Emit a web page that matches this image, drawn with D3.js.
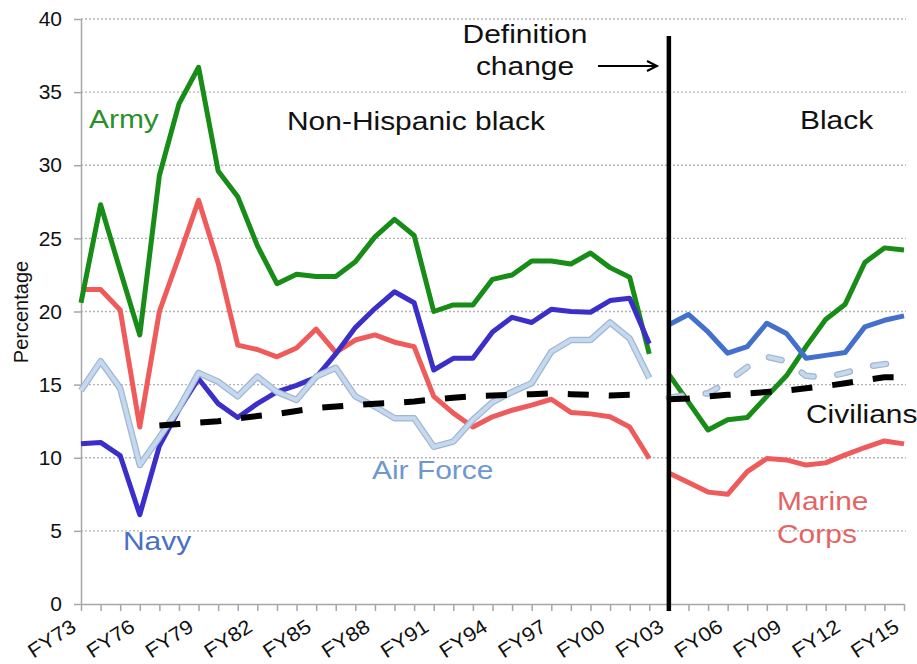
<!DOCTYPE html>
<html><head><meta charset="utf-8">
<script src="https://cdn.jsdelivr.net/npm/d3@7"></script>
<style>
html,body{margin:0;padding:0;background:#fff;}
svg{display:block;font-family:"Liberation Sans",Arial,sans-serif;}
</style></head>
<body>
<svg id="c" width="917" height="664"></svg>
<script>
const years = ["FY73","FY74","FY75","FY76","FY77","FY78","FY79","FY80","FY81","FY82",
  "FY83","FY84","FY85","FY86","FY87","FY88","FY89","FY90","FY91","FY92",
  "FY93","FY94","FY95","FY96","FY97","FY98","FY99","FY00","FY01","FY02",
  "FY03","FY04","FY05","FY06","FY07","FY08","FY09","FY10","FY11","FY12","FY13","FY14","FY15"];
const preYears = years.slice(0, 30);   // FY73-FY02, non-Hispanic black
const postYears = years.slice(30);     // FY03-FY15, black
const yTicks = [0,5,10,15,20,25,30,35,40];

const armyPre = [20.6,27.3,22.8,18.4,29.3,34.2,36.7,29.6,27.85,24.5,21.9,22.55,22.4,22.4,23.4,25.1,26.3,25.2,20.0,20.45,20.45,22.2,22.5,23.45,23.45,23.25,24.0,23.0,22.35,17.1];
const navyPre = [10.95,11.05,10.15,6.1,10.8,13.3,15.4,13.7,12.75,13.7,14.5,14.95,15.5,17.1,18.9,20.2,21.35,20.6,16.0,16.8,16.8,18.6,19.6,19.25,20.15,20.0,19.95,20.75,20.9,17.8];
const marinePre = [21.5,21.5,20.1,12.1,20.0,23.75,27.6,23.3,17.7,17.4,16.9,17.5,18.8,17.2,18.05,18.4,17.9,17.6,14.2,13.05,12.1,12.8,13.25,13.6,14.0,13.1,13.0,12.8,12.1,9.95];
const airPre = [14.6,16.6,14.75,9.5,11.4,13.4,15.8,15.2,14.2,15.55,14.5,13.95,15.55,16.15,14.2,13.5,12.7,12.7,10.75,11.1,12.6,13.8,14.5,15.1,17.25,18.05,18.05,19.25,18.15,15.45];
const civPre = [null,null,null,null,12.2,12.3,12.4,12.5,12.7,12.85,13.0,13.2,13.4,13.5,13.6,13.7,13.75,13.85,14.0,14.1,14.2,14.25,14.3,14.35,14.4,14.35,14.3,14.25,14.3,14.3];

const armyPost = [15.7,13.8,11.9,12.6,12.75,14.2,15.6,17.6,19.45,20.5,23.35,24.35,24.2];
const navyPost = [19.1,19.8,18.6,17.15,17.6,19.2,18.5,16.8,17.0,17.2,18.95,19.4,19.7];
const marinePost = [8.95,8.3,7.65,7.5,9.05,9.95,9.85,9.5,9.65,10.2,10.7,11.15,10.95];
const airPost = [14.1,14.3,14.4,15.2,16.2,16.9,16.6,15.6,15.5,15.8,16.2,16.4,16.6];
const civPost = [14.0,14.05,14.2,14.3,14.4,14.5,14.6,14.75,14.9,15.1,15.3,15.5,15.5];

const svg = d3.select("#c");
const x = d3.scalePoint().domain(years).range([81, 904]);
const y = d3.scaleLinear().domain([0, 40]).range([604, 19]);

// grid
svg.append("g").selectAll("line").data(yTicks.filter(v => v > 0)).join("line")
  .attr("x1", 81).attr("x2", 906).attr("y1", d => y(d)).attr("y2", d => y(d))
  .attr("stroke", "#b4b4b4").attr("stroke-width", 1.3).attr("stroke-dasharray", "2,2");

// axes
const yAxis = svg.append("g").attr("transform", "translate(81,0)")
  .call(d3.axisLeft(y).tickValues(yTicks).tickSize(7).tickSizeOuter(0).tickPadding(12));
yAxis.selectAll("path,line").attr("stroke", "#a6a6a6").attr("stroke-width", 1.5);
yAxis.selectAll("text").attr("font-size", 21).attr("fill", "#111")
  .attr("font-family", "Liberation Sans, Arial, sans-serif");

const xAxis = svg.append("g").attr("transform", "translate(0,604)")
  .call(d3.axisBottom(x).tickValues(years).tickSize(7).tickSizeOuter(0)
    .tickFormat((d, i) => i % 3 === 0 ? d : ""));
xAxis.selectAll("path,line").attr("stroke", "#a6a6a6").attr("stroke-width", 1.5);
xAxis.selectAll("text").attr("font-size", 20).attr("fill", "#111")
  .attr("font-family", "Liberation Sans, Arial, sans-serif")
  .attr("text-anchor", "end").attr("y", 0).attr("dy", 0)
  .attr("transform", "translate(-4,26) rotate(-33) scale(1.1,1)");

// lines
function path(data, yrs) {
  return d3.line().defined(d => d != null).x((d, i) => x(yrs[i])).y(d => y(d))(data);
}
function draw(data, yrs, color, width, dash, cap) {
  svg.append("path").attr("d", path(data, yrs)).attr("fill", "none")
    .attr("stroke", color).attr("stroke-width", width)
    .attr("stroke-linejoin", "round").attr("stroke-linecap", cap || "butt")
    .attr("stroke-dasharray", dash || null);
}
draw(marinePre, preYears, "#ef5b5b", 5);
draw(marinePost, postYears, "#ef5b5b", 5);
draw(armyPre, preYears, "#178c17", 5);
draw(armyPost, postYears, "#178c17", 5);
draw(navyPre, preYears, "#3c2ec9", 5);
draw(navyPost, postYears, "#4270cc", 5);
draw(airPre, preYears, "#a3b6cf", 6.5);
draw(airPre, preYears, "#c4d8f0", 4);
draw(airPost, postYears, "#a3b6cf", 6.5, "13,24", "round");
draw(airPost, postYears, "#c4d8f0", 4, "13,24", "round");
draw(civPre, preYears, "#000", 6, "21,20");
draw(civPost, postYears, "#000", 6, "21,20");

// definition change line
svg.append("line").attr("x1", x("FY03")).attr("x2", x("FY03")).attr("y1", 36).attr("y2", 611)
  .attr("stroke", "#000").attr("stroke-width", 4.5);
svg.append("line").attr("x1", 598).attr("x2", 656).attr("y1", 66).attr("y2", 66)
  .attr("stroke", "#000").attr("stroke-width", 2);
svg.append("path").attr("d", "M647,61 L657,66 L647,71").attr("fill", "none")
  .attr("stroke", "#000").attr("stroke-width", 2);

// texts
function txt(s, tx, ty, color, anchor) {
  svg.append("text").attr("transform", `translate(${tx},${ty}) scale(1.13,1)`)
    .attr("font-size", 26.5).attr("fill", color).attr("text-anchor", anchor || "start").text(s);
}
txt("Army", 89, 128, "#2a902a");
txt("Non-Hispanic black", 287, 130, "#111");
txt("Black", 800, 129, "#111");
txt("Definition", 525, 43, "#111", "middle");
txt("change", 525, 75, "#111", "middle");
txt("Navy", 123, 550, "#4a6fc4");
txt("Air Force", 372, 479, "#6f98cf");
txt("Civilians", 806, 423, "#111");
txt("Marine", 777, 510, "#e46464");
txt("Corps", 777, 543, "#e46464");

svg.append("text").attr("transform", "translate(28,312) rotate(-90)")
  .attr("font-size", 20).attr("fill", "#111").attr("text-anchor", "middle").text("Percentage");
</script>
</body></html>
